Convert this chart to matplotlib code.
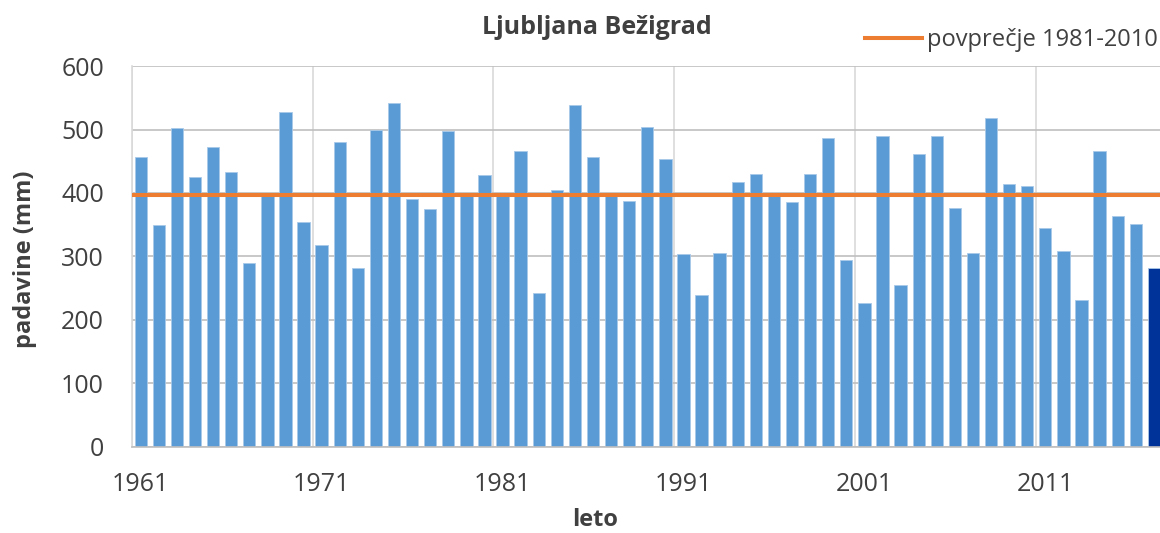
import matplotlib
matplotlib.use("Agg")
import matplotlib.pyplot as plt
import numpy as np

plt.rcParams['font.family'] = ['Open Sans', 'DejaVu Sans']

# Letne padavine, Ljubljana Bežigrad (mm)
years = np.arange(1961, 2018)
rain = [456, 350, 503, 425, 473, 433, 289, 395, 527, 354,
        318, 481, 282, 499, 542, 391, 374, 498, 395, 429,
        395, 466, 242, 404, 539, 457, 395, 388, 504, 454,
        304, 239, 305, 417, 430, 395, 386, 430, 487, 295,
        227, 489, 255, 462, 489, 376, 306, 518, 414, 411,
        344, 308, 231, 466, 364, 351, 282]
avg_1981_2010 = 397
highlight_year = 2017

bar_color = '#5B9BD5'
hl_color = '#003399'
colors = [hl_color if y == highlight_year else bar_color for y in years]

fig = plt.figure(figsize=(11.6, 5.33), dpi=100)
ax = fig.add_axes([0.1135, 0.162, 0.889, 0.714])

ax.bar(years, rain, width=0.68, color=colors, edgecolor='#a9c9ea',
       linewidth=0.6, zorder=2)
ax.axhline(avg_1981_2010, color='#ED7D31', lw=2.9, zorder=3)

ax.set_xlim(years[0] - 0.5, years[-1] + 0.5)
ax.set_ylim(0, 600)
ax.set_yticks(np.arange(0, 601, 100))
ax.set_xticks(years[::10])
ax.set_xticks(years[::10] - 0.5, minor=True)
ax.tick_params(axis='both', which='both', length=0, labelsize=18,
               labelcolor='#404040')
ax.tick_params(axis='x', pad=18)
ax.tick_params(axis='y', pad=20)

ax.grid(axis='y', color='#bfbfbf', lw=1.2, zorder=0)
ax.grid(axis='x', which='minor', color='#d9d9d9', lw=1.2, zorder=0)
ax.set_axisbelow(True)

for s in ['top', 'right']:
    ax.spines[s].set_visible(False)
ax.spines['left'].set_color('#d9d9d9')
ax.spines['bottom'].set_color('#bfbfbf')
ax.spines['left'].set_linewidth(1.2)
ax.spines['bottom'].set_linewidth(1.2)

fig.text(25 / 1160, 1 - 259 / 533, 'padavine (mm)', rotation=90,
         ha='center', va='center', fontsize=17, fontweight='bold',
         color='#404040')
fig.text(595 / 1160, 1 - 520 / 533, 'leto', ha='center', va='center',
         fontsize=17, fontweight='bold', color='#404040')
fig.text(597 / 1160, 1 - 28 / 533, 'Ljubljana Bežigrad', ha='center',
         va='center', fontsize=18, fontweight='bold', color='#404040')

# legenda
fig.legend(handles=[plt.Line2D([], [], color='#ED7D31', lw=2.9)],
           labels=['povprečje 1981-2010'], loc='center right',
           bbox_to_anchor=(1.0, 1 - 40 / 533), frameon=False, fontsize=17,
           handlelength=2.4, handletextpad=0.2, borderaxespad=0.0,
           borderpad=0.1, labelcolor='#404040')

fig.savefig('out.png', dpi=100)
